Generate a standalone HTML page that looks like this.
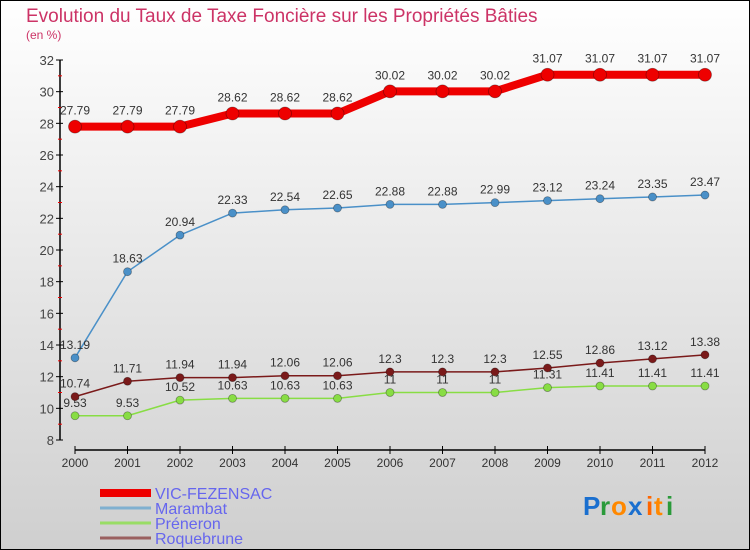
<!DOCTYPE html>
<html><head><meta charset="utf-8"><style>
html,body{margin:0;padding:0}
body{width:750px;height:550px;overflow:hidden;font-family:"Liberation Sans",sans-serif}
svg{display:block}
</style></head><body>
<svg width="750" height="550" viewBox="0 0 750 550">
<defs><linearGradient id="bg" x1="0" y1="0" x2="0" y2="1"><stop offset="0" stop-color="#ffffff"/><stop offset="1" stop-color="#cfcfcf"/></linearGradient></defs>
<rect x="0.5" y="0.5" width="749" height="549" fill="url(#bg)" stroke="#000"/>
<text x="26" y="22" font-size="19" fill="#cc3366">Evolution du Taux de Taxe Foncière sur les Propriétés Bâties</text>
<text x="26" y="39" font-size="12" fill="#cc3366">(en %)</text>
<g id="axes"></g>
<g id="series"></g>
<g id="legend"></g>
<g font-size="26" font-weight="bold">
<text x="583" y="515" fill="#1a6fcf">P</text><text x="600" y="515" fill="#2a9a3a">r</text><text x="611" y="515" fill="#ff8800">o</text><text x="628" y="515" fill="#1a6fcf">x</text><text x="646" y="515" fill="#ff6600">i</text><text x="654" y="515" fill="#ff8800">t</text><text x="666" y="515" fill="#2a9a3a">i</text>
</g>
</svg>
<script>
const years=["2000","2001","2002","2003","2004","2005","2006","2007","2008","2009","2010","2011","2012"];
const vic=[27.79,27.79,27.79,28.62,28.62,28.62,30.02,30.02,30.02,31.07,31.07,31.07,31.07];
const marambat=[13.19,18.63,20.94,22.33,22.54,22.65,22.88,22.88,22.99,23.12,23.24,23.35,23.47];
const preneron=[9.53,9.53,10.52,10.63,10.63,10.63,11,11,11,11.31,11.41,11.41,11.41];
const roquebrune=[10.74,11.71,11.94,11.94,12.06,12.06,12.3,12.3,12.3,12.55,12.86,13.12,13.38];
const yTicks=[8,10,12,14,16,18,20,22,24,26,28,30,32];
const seriesNames=["VIC-FEZENSAC","Marambat","Préneron","Roquebrune"];
const NS="http://www.w3.org/2000/svg";
const X=i=>75+i*52.5;
const Y=v=>440-(v-8)*(380/24);
function mk(tag,attrs,parent,text){const e=document.createElementNS(NS,tag);for(const k in attrs)e.setAttribute(k,attrs[k]);if(text!==undefined)e.textContent=text;parent.appendChild(e);return e;}
const axes=document.getElementById('axes');
let l=mk('line',{x1:60,y1:Y(32),x2:60,y2:Y(8),stroke:'#000','stroke-width':1.5},axes);


yTicks.forEach(v=>{
  let t=mk('line',{x1:56,y1:Y(v),x2:63,y2:Y(v),stroke:'#000'},axes);
  
  
  let m=mk('line',{x1:58,y1:Y(v+1),x2:62,y2:Y(v+1),stroke:'#e00'},axes);
  if(v===32)m.remove();
  let tx=mk('text',{x:54,y:Y(v)+5,'text-anchor':'end','font-size':13,fill:'#444'},axes,String(v));
  
  
});
l=mk('line',{x1:X(0),y1:450,x2:X(12),y2:450,stroke:'#000','stroke-width':1.5},axes);


years.forEach((y,i)=>{
  mk('line',{x1:X(i),y1:446,x2:X(i),y2:454,stroke:'#000'},axes);
  let tx=mk('text',{x:X(i),y:467,'text-anchor':'middle','font-size':12,fill:'#333'},axes,y);
  
  
});
const sg=document.getElementById('series');
function draw(data,color,w,r,name,labelColor){
  const g=mk('g',{},sg);
  
  
  mk('polyline',{points:data.map((v,i)=>X(i)+','+Y(v)).join(' '),fill:'none',stroke:color,'stroke-width':w,'stroke-linejoin':'round'},g);
  data.forEach((v,i)=>{
    let c=mk('circle',{cx:X(i),cy:Y(v),r:r,fill:color,stroke:'rgba(0,0,0,0.35)','stroke-width':0.8},g);
    
    
    let t=mk('text',{x:X(i),y:Y(v)-9-(r>4?3:0),'text-anchor':'middle','font-size':12,fill:'#333'},g,String(v));
    
    
  });
}
draw(preneron,'#88dd44',1.5,4,'preneron');
draw(roquebrune,'#7a1a1a',1.5,4,'roquebrune');
draw(marambat,'#4a90c8',1.5,4,'marambat');
draw(vic,'#ee0000',8,6.5,'vic-fezensac');
const lg=document.getElementById('legend');
const lc=['#ee0000','#7fb0d0','#99dd66','#9a6060'],lw=[8,3,3,3];
seriesNames.forEach((n,i)=>{
  const y=493+i*15;
  const g=mk('g',{},lg);
  
  
  mk('line',{x1:100,y1:y,x2:151,y2:y,stroke:lc[i],'stroke-width':lw[i]},g);
  mk('text',{x:155,y:y+6,'font-size':16,fill:'#6666ee'},g,n);
});
</script>
</body></html>
